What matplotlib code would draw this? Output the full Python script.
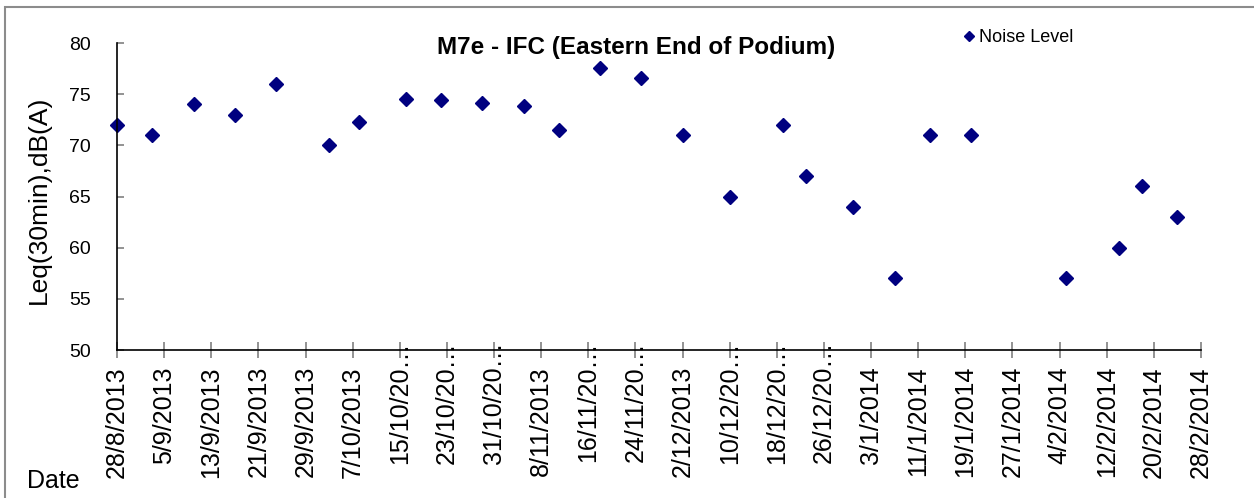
import numpy as np
import matplotlib
matplotlib.use("Agg")
import matplotlib.pyplot as plt
import matplotlib.transforms as mtransforms
from matplotlib.patches import Rectangle
from matplotlib.lines import Line2D

plt.rcParams['font.family'] = ['Liberation Sans', 'DejaVu Sans']

# ---- data ----
dates = ['2013-08-28', '2013-09-03', '2013-09-10', '2013-09-17', '2013-09-24',
         '2013-10-03', '2013-10-08', '2013-10-16', '2013-10-22', '2013-10-29',
         '2013-11-05', '2013-11-11', '2013-11-18', '2013-11-25', '2013-12-02',
         '2013-12-10', '2013-12-19', '2013-12-23', '2013-12-31', '2014-01-07',
         '2014-01-13', '2014-01-20', '2014-02-05', '2014-02-14', '2014-02-18',
         '2014-02-24']
noise_level = [72.0, 71.0, 74.0, 73.0, 76.0,
               70.0, 72.3, 74.5, 74.4, 74.1,
               73.8, 71.5, 77.6, 76.6, 71.0,
               65.0, 72.0, 67.0, 64.0, 57.0,
               71.0, 71.0, 57.0, 60.0, 66.0,
               63.0]
tick_dates = ['2013-08-28', '2013-09-05', '2013-09-13', '2013-09-21', '2013-09-29',
              '2013-10-07', '2013-10-15', '2013-10-23', '2013-10-31', '2013-11-08',
              '2013-11-16', '2013-11-24', '2013-12-02', '2013-12-10', '2013-12-18',
              '2013-12-26', '2014-01-03', '2014-01-11', '2014-01-19', '2014-01-27',
              '2014-02-04', '2014-02-12', '2014-02-20', '2014-02-28']
tick_labels = ['28/8/2013', '5/9/2013', '13/9/2013', '21/9/2013', '29/9/2013',
               '7/10/2013', '15/10/20…', '23/10/20…', '31/10/20…', '8/11/2013',
               '16/11/20…', '24/11/20…', '2/12/2013', '10/12/20…', '18/12/20…',
               '26/12/20…', '3/1/2014', '11/1/2014', '19/1/2014', '27/1/2014',
               '4/2/2014', '12/2/2014', '20/2/2014', '28/2/2014']
y_ticks = [50, 55, 60, 65, 70, 75, 80]
title = 'M7e - IFC (Eastern End of Podium)'
series_name = 'Noise Level'

W, H = 1254, 498
fig = plt.figure(figsize=(W / 100, H / 100), dpi=100)
fig.patch.set_facecolor('white')

def fx(px):
    return px / W

def fy(py):
    return 1 - py / H

ax = fig.add_axes([fx(117), fy(350), fx(1201) - fx(117), fy(43) - fy(350)])

x = np.array(dates, dtype='datetime64[D]').astype('O')
ax.plot(x, noise_level, linestyle='none', marker='D', markersize=7.5,
        color='#000080', markeredgecolor='#000080', clip_on=False)

xt = np.array(tick_dates, dtype='datetime64[D]').astype('O')
ax.set_xlim(xt[0], xt[-1])
ax.set_ylim(50, 80)
ax.set_yticks(y_ticks)
ax.set_xticks(xt)
ax.set_xticklabels([])

for s in ['top', 'right']:
    ax.spines[s].set_visible(False)
for s in ['left', 'bottom']:
    ax.spines[s].set_color('black')
    ax.spines[s].set_linewidth(1.2)

ax.tick_params(axis='y', direction='in', length=5, width=1.2, color='#808080',
               labelsize=14, pad=19)
ax.tick_params(axis='x', direction='inout', length=11, width=1.2, color='#808080')

# x tick labels (rotated, top-aligned; truncated ones have ellipsis above)
trans = mtransforms.blended_transform_factory(ax.transData, ax.transAxes)
ell_w = 25  # px, width of the ellipsis
for d, lab in zip(xt, tick_labels):
    dy = -16
    if lab.endswith('…'):
        dy += ell_w
    off = mtransforms.ScaledTranslation(0, dy / 100, fig.dpi_scale_trans)
    ax.text(d, 0, lab, transform=trans + off, rotation=90, ha='center', va='top',
            fontsize=18, clip_on=False)

# titles / labels
fig.text(fx(636), fy(54), title, ha='center', va='baseline', fontsize=17.5,
         fontweight='bold')
fig.text(fx(39), fy(200), 'Leq(30min),dB(A)', rotation=90, ha='center',
         va='center', fontsize=19)
fig.text(fx(27), fy(488), 'Date', ha='left', va='baseline', fontsize=18)

# legend
fig.add_artist(Line2D([fx(969)], [fy(36)], marker='D', markersize=5.5,
                      color='#000080', linestyle='none', transform=fig.transFigure))
fig.text(fx(979), fy(42), series_name, ha='left', va='baseline', fontsize=13)

# outer border
fig.add_artist(Rectangle((fx(5), fy(505)), fx(1270) - fx(5), fy(7) - fy(505),
                         transform=fig.transFigure, fill=False,
                         edgecolor='#8c8c8c', linewidth=1.5))

fig.savefig('out.png', dpi=100, facecolor='white')
